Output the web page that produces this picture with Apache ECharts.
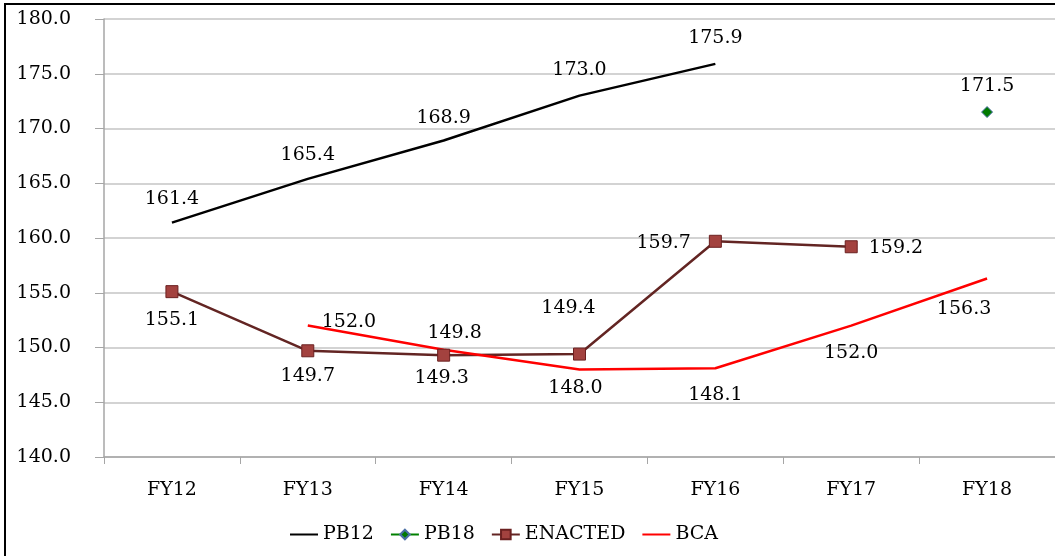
<!DOCTYPE html>
<html><head><meta charset="utf-8">
<script src="https://cdn.jsdelivr.net/npm/echarts@6/dist/echarts.min.js"></script>
<style>html,body{margin:0;padding:0;background:#fff}#c{width:1055px;height:556px}</style>
</head><body><div id="c"></div>
<script>
const categories = ['FY12','FY13','FY14','FY15','FY16','FY17','FY18'];
const pb12 = [161.4, 165.4, 168.9, 173.0, 175.9, null, null];
const pb18 = [null, null, null, null, null, null, 171.5];
const enacted = [155.1, 149.7, 149.3, 149.4, 159.7, 159.2, null];
const bca = [null, 152.0, 149.8, 148.0, 148.1, 152.0, 156.3];

// label placement per point
const pb12Pos = [['top',14,[0,0]],['top',14,[0,0]],['top',13,[0,0]],['top',16,[0,0]],['top',16,[0,0]]];
const pb18Pos = [null,null,null,null,null,null,['top',11,[0,0]]];
const enactedPos = [['bottom',12,[0,0]],['bottom',9,[0,0]],['bottom',7,[-2,0]],['top',30,[-11,0]],['left',18,[0,2]],['right',11,[0,1]]];
const bcaPos = [null,['right',14,[0,-4]],['top',7,[11,0]],['bottom',9,[-4,0]],['bottom',17,[0,0]],['bottom',18,[0,0]],['bottom',21,[-23,0]]];

const FONT = 'DejaVu Serif';
const FS = 19;
function build(vals, pos){
  return vals.map((v,i)=>{
    if(v==null) return null;
    const p = pos[i];
    return {value:v, label:{show:true, position:p[0], distance:p[1], offset:p[2]}};
  });
}
const lbl = {show:true, color:'#000', fontFamily:FONT, fontSize:FS, formatter:(p)=>p.value.toFixed(1)};

const chart = echarts.init(document.getElementById('c'), null, {renderer:'canvas'});
chart.setOption({
  animation:false,
  backgroundColor:'#fff',
  graphic:[{type:'rect', shape:{x:5,y:4,width:1100,height:700}, style:{fill:'none', stroke:'#000', lineWidth:2}, z:-10, silent:true}],
  grid:{left:104, top:19, width:954, height:438, containLabel:false},
  legend:{
    left:284, top:520, itemWidth:28, itemHeight:12, itemGap:16,
    textStyle:{fontFamily:FONT, fontSize:FS, color:'#000'},
    data:[
      {name:'PB12', itemStyle:{opacity:0}},
      {name:'PB18'},
      {name:'ENACTED'},
      {name:'BCA', itemStyle:{opacity:0}}
    ]
  },
  xAxis:{
    type:'category', data:categories, boundaryGap:true,
    axisLine:{lineStyle:{color:'#a6a6a6', width:1.5}},
    axisTick:{show:true, length:7, lineStyle:{color:'#a6a6a6'}},
    axisLabel:{fontFamily:FONT, fontSize:FS, color:'#000', margin:24}
  },
  yAxis:{
    type:'value', min:140, max:180, interval:5,
    axisLine:{show:true, lineStyle:{color:'#a6a6a6', width:1.5}},
    axisTick:{show:true, length:9, lineStyle:{color:'#a6a6a6'}},
    splitLine:{lineStyle:{color:'#c4c4c4', width:1.5}},
    axisLabel:{fontFamily:FONT, fontSize:FS, color:'#000', margin:33, formatter:(v)=>v.toFixed(1)}
  },
  series:[
    {name:'PB12', type:'line', data:build(pb12,pb12Pos), symbol:'circle', symbolSize:0, connectNulls:false,
     lineStyle:{color:'#000', width:2.5}, itemStyle:{color:'#000'}, label:lbl},
    {name:'PB18', type:'line', data:build(pb18,pb18Pos), symbol:'diamond', symbolSize:11,
     lineStyle:{color:'#008000', width:2.5}, itemStyle:{color:'#007a00', borderColor:'#4a6fa5', borderWidth:1}, label:lbl},
    {name:'ENACTED', type:'line', data:build(enacted,enactedPos), symbol:'rect', symbolSize:12,
     lineStyle:{color:'#632523', width:2.5}, itemStyle:{color:'#a3423f', borderColor:'#6b2020', borderWidth:1}, label:lbl},
    {name:'BCA', type:'line', data:build(bca,bcaPos), symbol:'circle', symbolSize:0,
     lineStyle:{color:'#ff0000', width:2.5}, itemStyle:{color:'#ff0000'}, label:lbl}
  ]
});
</script></body></html>
